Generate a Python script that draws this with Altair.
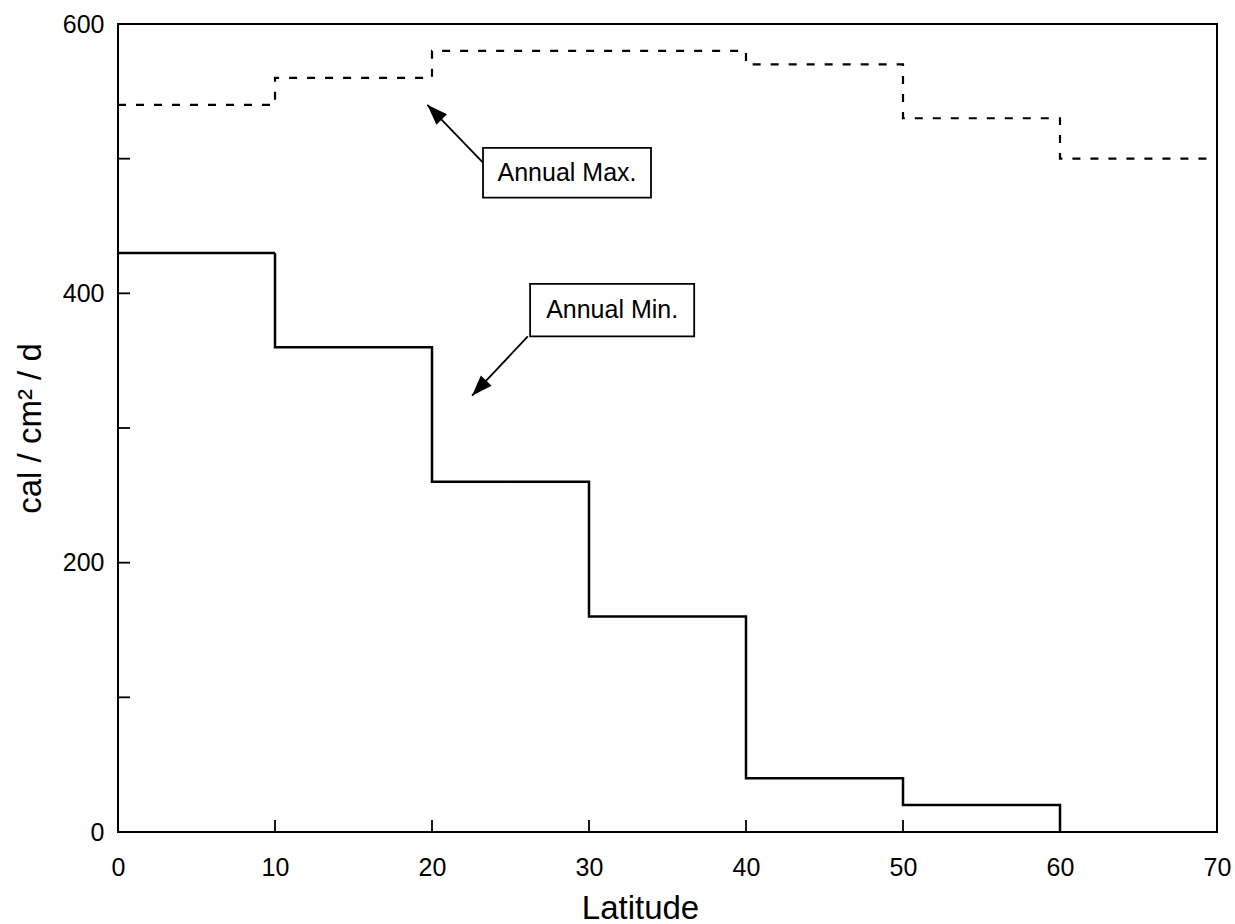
import altair as alt
import pandas as pd

# Step edges (latitude, degrees) and daily solar radiation (cal / cm² / d)
min_lat = [0, 10, 20, 30, 40, 50, 60]
annual_min = [430, 360, 260, 160, 40, 20, 0]
max_lat = [0, 10, 20, 30, 40, 50, 60, 70]
annual_max = [540, 560, 580, 580, 570, 530, 500, 500]

x_tick_values = [0, 10, 20, 30, 40, 50, 60, 70]
y_tick_values = [0, 100, 200, 300, 400, 500, 600]
y_label_values = [0, 200, 400, 600]

# Callout boxes with arrows pointing at each curve
note_text = ["Annual Max.", "Annual Min."]
note_box_x = [23.25, 26.25]
note_box_x2 = [33.95, 36.7]
note_box_y = [508, 407]
note_box_y2 = [471, 368]
note_from_x = [23.25, 26.1]
note_from_y = [497, 368]
note_to_x = [19.7, 22.55]
note_to_y = [540, 324]
note_head_angle = [315.5, 223.5]

FONT = "Liberation Sans"
W, H = 1099, 808

steps = pd.DataFrame({
    "lat": min_lat + max_lat,
    "val": annual_min + annual_max,
    "series": ["Annual Min."] * len(min_lat) + ["Annual Max."] * len(max_lat),
})
notes = pd.DataFrame({
    "text": note_text,
    "bx": note_box_x, "bx2": note_box_x2,
    "by": note_box_y, "by2": note_box_y2,
    "cx": [(a + b) / 2 for a, b in zip(note_box_x, note_box_x2)],
    "cy": [(a + b) / 2 for a, b in zip(note_box_y, note_box_y2)],
    "fx": note_from_x, "fy": note_from_y,
    "tx": note_to_x, "ty": note_to_y,
    "ang": note_head_angle,
})
xticks = pd.DataFrame({"lat": x_tick_values})
yticks = pd.DataFrame({"val": y_tick_values})

x_scale = alt.Scale(domain=[0, 70], nice=False, zero=False)
y_scale = alt.Scale(domain=[0, 600], nice=False, zero=False)

x_axis = alt.Axis(
    title="Latitude", values=x_tick_values, format="d", ticks=False, domain=False,
    grid=False, labelFont=FONT, labelFontSize=25, labelColor="black",
    labelPadding=23, labelFlush=False,
    titleFont=FONT, titleFontSize=33, titleFontWeight="normal", titleColor="black",
    titleX=522, titleY=86, titleBaseline="alphabetic", titleAnchor="start",
    titleAlign="center",
)
y_axis = alt.Axis(
    title="cal / cm² / d", values=y_label_values, format="d", ticks=False,
    domain=False, grid=False, labelFont=FONT, labelFontSize=25,
    labelColor="black", labelPadding=14, labelFlush=False,
    titleFont=FONT, titleFontSize=33, titleFontWeight="normal", titleColor="black",
    titleX=-78, titleY=H / 2, titleAngle=-90, titleBaseline="alphabetic",
    titleAlign="center", titleAnchor="start",
)


def X(field):
    return alt.X(f"{field}:Q", scale=x_scale, axis=x_axis)


def Y(field):
    return alt.Y(f"{field}:Q", scale=y_scale, axis=y_axis)


lines = alt.Chart(steps).mark_line(interpolate="step-after", color="black").encode(
    x=X("lat"),
    y=Y("val"),
    detail="series:N",
    strokeWidth=alt.StrokeWidth(
        "series:N",
        scale=alt.Scale(domain=["Annual Min.", "Annual Max."], range=[2.5, 2.2]),
        legend=None,
    ),
    strokeDash=alt.StrokeDash(
        "series:N",
        scale=alt.Scale(domain=["Annual Min.", "Annual Max."], range=[[1, 0], [8, 10]]),
        legend=None,
    ),
)

x_inner_ticks = alt.Chart(xticks).mark_rule(color="black", strokeWidth=1.8).encode(
    x=X("lat"), y=alt.value(H), y2=alt.value(H - 12)
)
y_inner_ticks = alt.Chart(yticks).mark_rule(color="black", strokeWidth=1.8).encode(
    y=Y("val"), x=alt.value(0), x2=alt.value(12)
)

arrow_shaft = alt.Chart(notes).mark_rule(color="black", strokeWidth=1.8).encode(
    x=X("fx"), y=Y("fy"), x2="tx:Q", y2="ty:Q"
)
arrow_head = alt.Chart(notes).mark_point(
    shape="M0,0L-0.36,1L0.36,1Z", size=1700, filled=True, color="black", opacity=1
).encode(x=X("tx"), y=Y("ty"), angle=alt.Angle("ang:Q", scale=None))

boxes = alt.Chart(notes).mark_rect(fill="white", stroke="black", strokeWidth=1.8).encode(
    x=X("bx"), x2="bx2:Q", y=Y("by"), y2="by2:Q"
)
box_text = alt.Chart(notes).mark_text(
    font=FONT, fontSize=25, color="black", align="center", baseline="middle"
).encode(x=X("cx"), y=Y("cy"), text="text:N")

chart = alt.layer(
    x_inner_ticks, y_inner_ticks, lines, arrow_shaft, arrow_head, boxes, box_text
).properties(
    width=W, height=H,
    autosize=alt.AutoSizeParams(type="none"),
    padding={"left": 118, "top": 24, "right": 18, "bottom": 92},
    background="white",
).configure_view(stroke="black", strokeWidth=2)

chart.save("out.html", embed_options={"renderer": "svg", "actions": False})
